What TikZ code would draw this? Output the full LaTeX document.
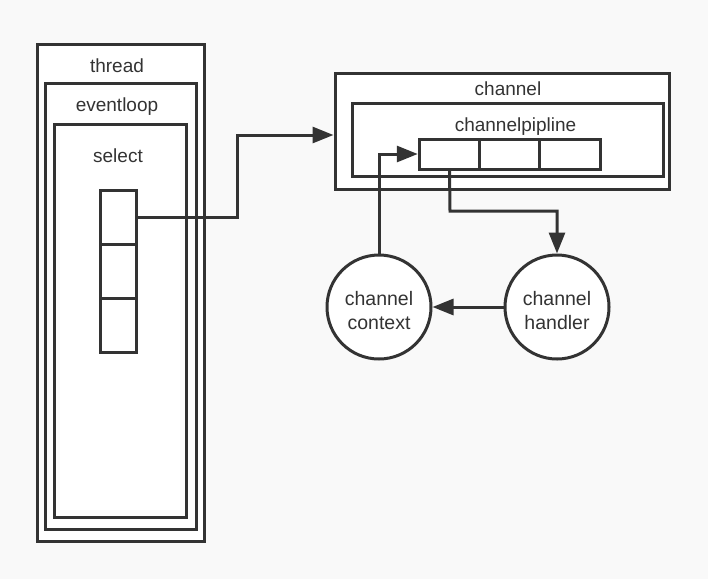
\documentclass[tikz,border=0pt]{standalone}
\usepackage{fontspec}
\setmainfont{Liberation Sans}
\usetikzlibrary{arrows.meta,calc}
\definecolor{ln}{HTML}{333333}
\definecolor{bg}{HTML}{F9F9F9}
\begin{document}
\begin{tikzpicture}[x=1pt,y=-1pt,
  box/.style={draw=ln,line width=3pt,fill=white,inner sep=0pt},
  circ/.style={circle,draw=ln,line width=3pt,fill=white,minimum size=104pt,inner sep=0pt},
  ctext/.style={text=ln,font=\fontsize{19.5}{24}\selectfont,align=center,inner sep=0pt,yshift=-4pt},
  lbl/.style={text=ln,font=\fontsize{19}{22}\selectfont,inner sep=0pt},
  arr/.style={draw=ln,line width=3pt,-{Triangle[length=21pt,width=16pt]}},
  con/.style={draw=ln,line width=3pt}]
\fill[bg] (0,0) rectangle (708,579);
\useasboundingbox (0,0) rectangle (708,579);
% left stack
\node[box,minimum width=167pt,minimum height=497pt] (thread) at (120.5,292.5) {};
\node[box,minimum width=151pt,minimum height=446pt] (eventloop) at (120.5,306) {};
\node[box,minimum width=132pt,minimum height=393pt] (select) at (120,320.5) {};
\node[lbl] (tl) at (117,66) {thread};
\node[lbl] (el) at (117,107) {eventloop};
\node[lbl] (sl) at (118,156) {select};
\node[box,minimum width=36pt,minimum height=54pt] (c1) at (118,217) {};
\node[box,minimum width=36pt,minimum height=54pt] (c2) at (118,271) {};
\node[box,minimum width=36pt,minimum height=54pt] (c3) at (118,325) {};
% channel
\node[box,minimum width=334pt,minimum height=116pt] (channel) at (502,131.5) {};
\node[box,minimum width=311pt,minimum height=73pt] (pipe) at (507.5,139.5) {};
\node[lbl] (chl) at (508,89) {channel};
\node[lbl] (pl) at (515.5,127) {channelpipline};
\node[box,minimum width=60.5pt,minimum height=30pt] (p1) at (449.5,154) {};
\node[box,minimum width=60.5pt,minimum height=30pt] (p2) at (510,154) {};
\node[box,minimum width=60.5pt,minimum height=30pt] (p3) at (570,154) {};
% circles
\node[circ,label={[ctext]center:channel\\context}] (ctx) at (379,307) {};
\node[circ,label={[ctext]center:channel\\handler}] (hdl) at (557,307) {};
% connectors
\coordinate (k1) at (237,217);
\draw[arr] (c1.east) -- (k1) |- ([yshift=-3.5pt]channel.west);
\draw[arr] (ctx.north) |- (p1.west);
\coordinate (k2) at (450,211);
\draw[arr] (p1.south) -- (k2) -| (hdl.north);
\draw[arr] (hdl.west) -- (ctx.east);
\end{tikzpicture}
\end{document}
